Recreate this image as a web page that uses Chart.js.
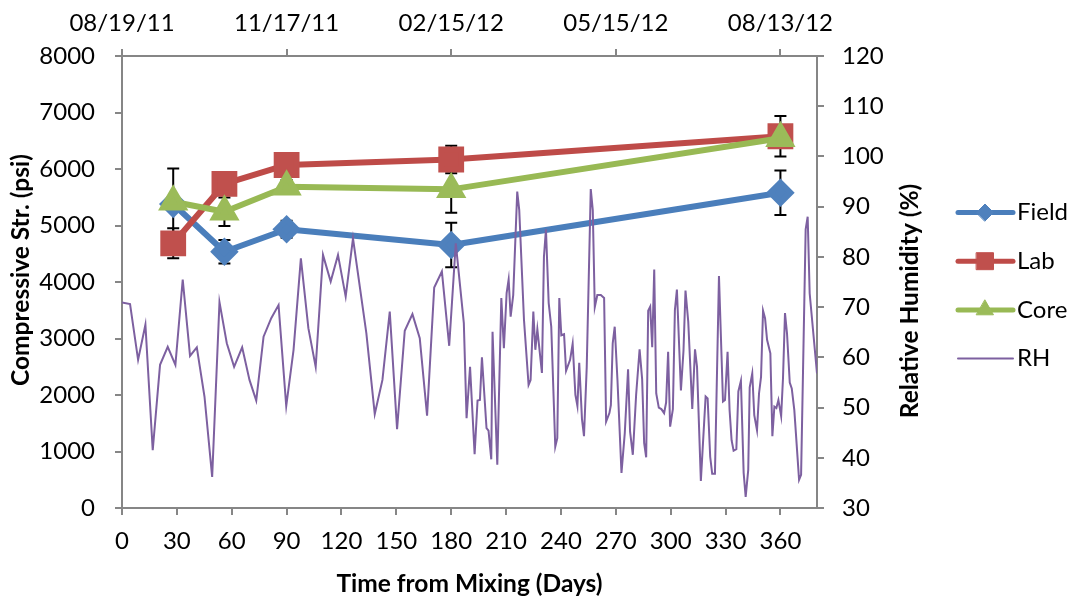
<!DOCTYPE html>
<html>
<head>
<meta charset="utf-8">
<script src="https://cdn.jsdelivr.net/npm/chart.js@4.4.1/dist/chart.umd.min.js"></script>
<style>
  html, body { margin: 0; padding: 0; background: #fff; }
  #chart { display: block; }
</style>
</head>
<body>
<canvas id="chart" width="1074" height="602"></canvas>
<script>
// test ages (days) for the strength series
const TEST_DAYS = [28, 56, 90, 180, 360];

const FIELD = [5380, 4536, 4933, 4655, 5580];
const FIELD_ERR = [100, 207, 150, 395, 392];
const LAB = [4685, 5735, 6071, 6168, 6580];
const LAB_ERR = [265, 100, 100, 244, 360];
const CORE = [5420, 5244, 5687, 5640, 6543];
const CORE_ERR = [589, 253, 118, 413, 100];

// relative humidity record
const RH_DAYS = [
  0, 4.4, 8.8, 12.8, 16.8, 20.8, 25, 29.2, 33.2, 37.2, 40.9, 45.1, 49.3, 53.3, 57.3, 61.3,
  65.7, 69.7, 73.4, 77.4, 81.6, 85.6, 89.8, 93.8, 97.8, 101.9, 105.9, 109.9, 114.1, 118.1,
  122.3, 126.3, 133.6, 138.2, 142.4, 146.4, 150.4, 154.6, 158.8, 162.8, 166.8, 170.7, 174.9,
  178.9, 182.5, 186.9, 188.4, 190.3, 192.8, 194.4, 195.7, 196.8, 199.3, 200.4, 201.9, 202.6,
  205.2, 207.4, 208.8, 210.3, 211.4, 212.5, 213.9, 216.1, 217.2, 219.8, 222.3, 223.4, 224.9,
  226.0, 227.1, 229.6, 230.7, 231.8, 233.3, 234.7, 236.9, 238.0, 239.1, 240.2, 241.7, 242.8,
  245.0, 246.4, 247.9, 249.0, 250.0, 251.5, 252.6, 254.1, 256.3, 257.4, 258.5, 259.9, 261.8,
  263.6, 264.7, 266.5, 267.3, 268.3, 269.4, 270.9, 273.1, 274.9, 276.7, 277.8, 279.3, 281.1,
  283.0, 284.4, 285.5, 286.6, 287.7, 288.8, 289.9, 291.0, 292.1, 293.5, 294.9, 296.4, 297.5,
  298.6, 299.7, 301.2, 302.3, 303.4, 305.6, 307.0, 308.1, 309.6, 311.8, 313.3, 314.4, 316.5,
  319.1, 320.2, 321.6, 322.7, 324.2, 326.4, 328.6, 329.7, 331.1, 332.2, 333.3, 334.4, 335.9,
  337.0, 338.4, 339.9, 341.0, 342.4, 343.2, 344.6, 345.7, 347.2, 348.3, 349.4, 350.5, 351.6,
  352.7, 354.5, 355.6, 356.7, 357.8, 358.9, 360.4, 361.4, 362.5, 363.6, 365.1, 366.2, 367.6,
  370.2, 371.3, 373.8, 374.9, 376.0, 380.0
];
const RH_VALUES = [
  70.9, 70.6, 59.5, 66.5, 41.5, 58.5, 62.1, 58.5, 75.5, 60.3, 62.0, 52.2, 36.2, 71.0, 62.8, 58.1,
  62.0, 55.5, 51.4, 64.1, 67.8, 70.4, 50.3, 61.5, 79.7, 65.8, 58.1, 80.4, 75.1, 80.4,
  72.1, 83.7, 64.8, 48.7, 55.5, 69.1, 45.7, 65.3, 68.6, 63.8, 48.4, 73.9, 77.1,
  62.3, 82.7, 66.8, 47.9, 58.1, 40.7, 51.4, 51.5, 60.0, 45.9, 45.4, 39.7, 65.1,
  38.6, 71.8, 61.8, 72.8, 75.5, 68.1, 72.4, 93.0, 89.3, 67.4, 54.5, 55.5, 69.1,
  61.5, 65.6, 56.9, 80.0, 85.5, 70.8, 66.1, 42.2, 43.9, 71.8, 64.4, 64.6, 57.3,
  59.5, 62.7, 52.5, 50.3, 58.9, 47.7, 44.3, 58.1, 93.5, 89.3, 70.0, 72.4, 72.4,
  71.8, 47.2, 48.9, 50.5, 62.8, 66.1, 55.5, 37.0, 44.9, 57.6, 45.2, 40.6, 52.5,
  61.6, 55.6, 42.9, 40.1, 69.3, 70.1, 62.0, 77.5, 52.8, 50.0, 49.7, 48.9, 51.0,
  61.1, 46.2, 49.7, 69.4, 73.5, 53.4, 61.3, 73.3, 67.1, 49.7, 61.6, 58.1, 35.4,
  52.2, 51.8, 40.2, 36.8, 36.8, 76.2, 51.2, 51.5, 61.1, 49.5, 43.5, 41.4, 41.7,
  53.2, 55.3, 37.0, 32.2, 37.6, 54.0, 56.8, 48.5, 45.5, 52.8, 56.1, 69.3, 67.8,
  63.5, 60.8, 44.3, 50.2, 49.9, 51.5, 48.3, 55.8, 68.8, 64.8, 55.0, 53.8, 49.5,
  35.6, 36.6, 85.5, 88.0, 72.7, 56.8
];

// axis ticks
const X_TICKS = [0, 30, 60, 90, 120, 150, 180, 210, 240, 270, 300, 330, 360];
const TOP_TICK_DAYS = [0, 90, 180, 270, 360];
const TOP_TICK_LABELS = ['08/19/11', '11/17/11', '02/15/12', '05/15/12', '08/13/12'];

const AXIS_GRAY = '#868686';
const FONT = 'Lato';
const TITLE_SIZE = 24.5;

function pts(xs, ys) {
    return xs.map((x, i) => ({ x: x, y: ys[i] }));
}

function axisLook() {
    return {
        grid: { display: true, drawOnChartArea: false, drawTicks: true, tickLength: 7, color: AXIS_GRAY, lineWidth: 2 },
        border: { display: true, color: AXIS_GRAY, width: 2 }
    };
}

// whiskers drawn under the markers
const errorBars = {
    id: 'errorBars',
    beforeDatasetsDraw(chart) {
        const ctx = chart.ctx;
        const xs = chart.scales.x, ys = chart.scales.y;
        ctx.save();
        ctx.strokeStyle = '#000';
        ctx.lineWidth = 2;
        chart.data.datasets.forEach(ds => {
            if (!ds.errors) return;
            ds.data.forEach((p, i) => {
                const x = xs.getPixelForValue(p.x);
                const hi = ys.getPixelForValue(p.y + ds.errors[i]);
                const lo = ys.getPixelForValue(p.y - ds.errors[i]);
                ctx.beginPath();
                ctx.moveTo(x, hi); ctx.lineTo(x, lo);
                ctx.moveTo(x - 6, hi); ctx.lineTo(x + 6, hi);
                ctx.moveTo(x - 6, lo); ctx.lineTo(x + 6, lo);
                ctx.stroke();
            });
        });
        ctx.restore();
    }
};

// legend on the right + the two vertical axis titles (both read bottom-to-top)
const sideLegend = {
    id: 'sideLegend',
    afterDraw(chart) {
        const ctx = chart.ctx;
        ctx.save();
        chart.data.datasets.forEach((ds, i) => {
            const y = 212.5 + i * 48.7;
            ctx.strokeStyle = ds.borderColor;
            ctx.lineWidth = ds.legendLine;
            ctx.lineCap = 'round';
            ctx.beginPath();
            ctx.moveTo(958, y);
            ctx.lineTo(1013, y);
            ctx.stroke();
            if (ds.legendRadius) {
                ctx.fillStyle = ds.pointBackgroundColor;
                ctx.strokeStyle = ds.pointBorderColor;
                ctx.lineWidth = 1;
                Chart.helpers.drawPoint(ctx, { pointStyle: ds.pointStyle, radius: ds.legendRadius, rotation: 0, borderWidth: 1 }, 985, y);
            }
            ctx.fillStyle = '#000';
            ctx.font = '24px ' + FONT;
            ctx.textAlign = 'left';
            ctx.textBaseline = 'middle';
            ctx.fillText(ds.label, 1017, y);
        });

        ctx.font = 'bold ' + TITLE_SIZE + 'px ' + FONT;
        ctx.textAlign = 'center';
        ctx.textBaseline = 'middle';
        ctx.fillStyle = '#000';
        [['Compressive Str. (psi)', 21, 270], ['Relative Humidity (%)', 910, 301]].forEach(([t, x, y]) => {
            ctx.save();
            ctx.translate(x, y);
            ctx.rotate(-Math.PI / 2);
            ctx.fillText(t, 0, 0);
            ctx.restore();
        });
        ctx.restore();
    }
};

Chart.defaults.font.family = FONT;
Chart.defaults.font.size = 24;
Chart.defaults.color = '#000';

new Chart(document.getElementById('chart'), {
    type: 'line',
    data: {
        datasets: [
            {
                label: 'Field',
                data: pts(TEST_DAYS, FIELD),
                errors: FIELD_ERR,
                borderColor: '#4A7EBB',
                pointBackgroundColor: '#4F81BD',
                pointBorderColor: '#4F81BD',
                pointStyle: 'rectRot',
                pointRadius: 10,
                legendRadius: 8.5,
                legendLine: 5,
                borderWidth: 6,
                borderJoinStyle: 'round',
                yAxisID: 'y',
                order: 4
            },
            {
                label: 'Lab',
                data: pts(TEST_DAYS, LAB),
                errors: LAB_ERR,
                borderColor: '#BE4B48',
                pointBackgroundColor: '#C0504D',
                pointBorderColor: '#C0504D',
                pointStyle: 'rect',
                pointRadius: 14,
                legendRadius: 12,
                legendLine: 5,
                borderWidth: 6,
                borderJoinStyle: 'round',
                yAxisID: 'y',
                order: 3
            },
            {
                label: 'Core',
                data: pts(TEST_DAYS, CORE),
                errors: CORE_ERR,
                borderColor: '#98B954',
                pointBackgroundColor: '#9BBB59',
                pointBorderColor: '#9BBB59',
                pointStyle: 'triangle',
                pointRadius: 11.5,
                legendRadius: 9.8,
                legendLine: 5,
                borderWidth: 6,
                borderJoinStyle: 'round',
                yAxisID: 'y',
                order: 2
            },
            {
                label: 'RH',
                data: pts(RH_DAYS, RH_VALUES),
                borderColor: '#7D60A0',
                borderWidth: 2,
                pointRadius: 0,
                legendLine: 2,
                yAxisID: 'y2',
                order: 1
            }
        ]
    },
    options: {
        responsive: false,
        animation: false,
        events: [],
        layout: { padding: 0 },
        plugins: {
            legend: { display: false },
            tooltip: { enabled: false }
        },
        scales: {
            x: {
                type: 'linear',
                position: 'bottom',
                min: 0,
                max: 380,
                ...axisLook(),
                afterBuildTicks: s => { s.ticks = X_TICKS.map(v => ({ value: v })); },
                afterFit: s => { s.height = 94; },
                ticks: { padding: 12, autoSkip: false, maxRotation: 0 },
                title: {
                    display: true,
                    text: 'Time from Mixing (Days)',
                    font: { size: TITLE_SIZE, weight: 'bold' },
                    padding: { top: 0, bottom: 3 }
                }
            },
            x2: {
                type: 'linear',
                position: 'top',
                min: 0,
                max: 380,
                ...axisLook(),
                afterBuildTicks: s => { s.ticks = TOP_TICK_DAYS.map(v => ({ value: v })); },
                afterFit: s => { s.height = 56; },
                ticks: { padding: 11, autoSkip: false, maxRotation: 0, callback: (v, i) => TOP_TICK_LABELS[i] }
            },
            y: {
                position: 'left',
                min: 0,
                max: 8000,
                ...axisLook(),
                afterFit: s => { s.width = 122; },
                ticks: { stepSize: 1000, padding: 20, callback: v => String(v) }
            },
            y2: {
                position: 'right',
                min: 30,
                max: 120,
                ...axisLook(),
                afterFit: s => { s.width = 257; },
                ticks: { stepSize: 10, padding: 18, callback: v => String(v) }
            }
        }
    },
    plugins: [errorBars, sideLegend]
});
</script>
</body>
</html>
